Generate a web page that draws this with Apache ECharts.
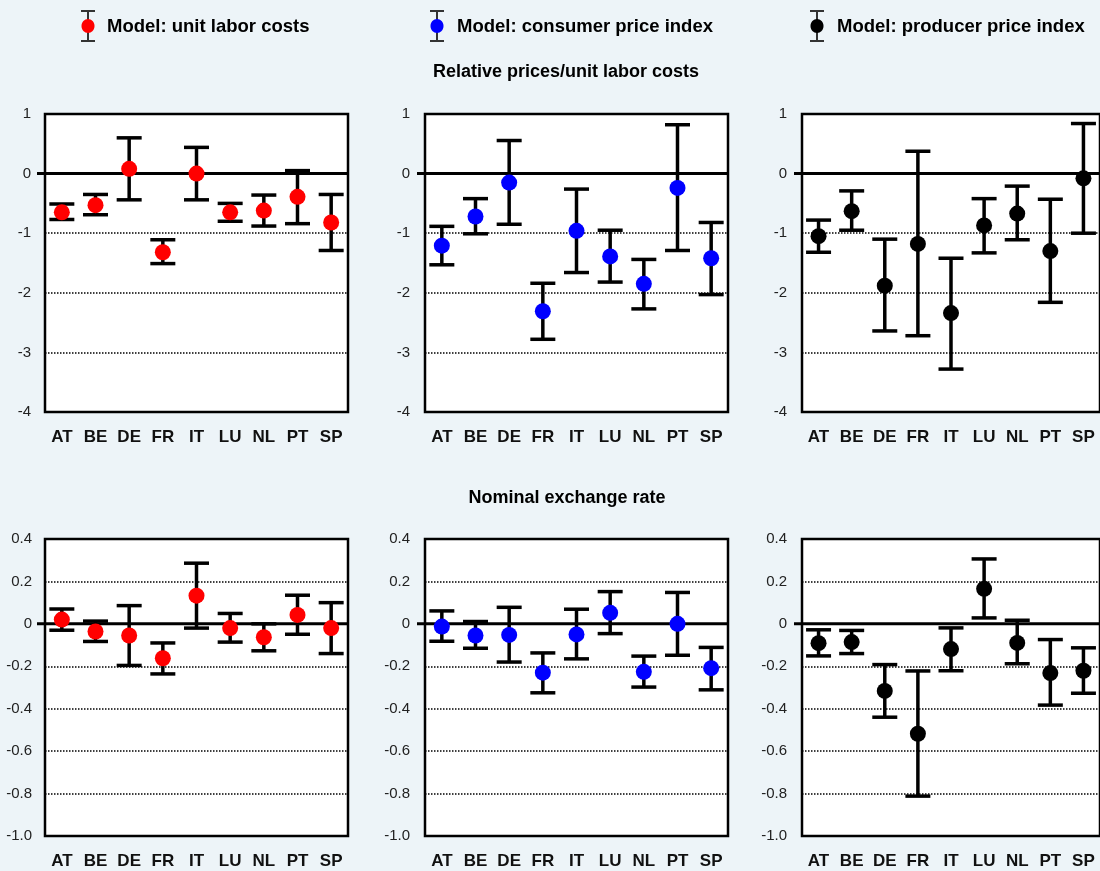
<!DOCTYPE html>
<html>
<head>
<meta charset="utf-8">
<script src="https://cdn.jsdelivr.net/npm/echarts@6/dist/echarts.min.js"></script>
<style>
  html, body { margin: 0; padding: 0; background: #edf4f8; }
  #chart { width: 1100px; height: 871px; }
</style>
</head>
<body>
<div id="chart"></div>
<script>
const categories = ['AT','BE','DE','FR','IT','LU','NL','PT','SP'];

// Relative prices / unit labor costs
const relULC     = [-0.65, -0.53, 0.08, -1.32, 0.00, -0.65, -0.62, -0.39, -0.82];
const relULCLow  = [-0.77, -0.69, -0.44, -1.51, -0.44, -0.80, -0.88, -0.84, -1.29];
const relULCHigh = [-0.51, -0.35, 0.60, -1.11, 0.44, -0.50, -0.36, 0.05, -0.35];

const relCPI     = [-1.21, -0.72, -0.15, -2.31, -0.96, -1.39, -1.85, -0.24, -1.42];
const relCPILow  = [-1.53, -1.01, -0.85, -2.78, -1.66, -1.82, -2.27, -1.29, -2.03];
const relCPIHigh = [-0.885, -0.42, 0.555, -1.84, -0.26, -0.95, -1.44, 0.82, -0.82];

const relPPI     = [-1.05, -0.63, -1.88, -1.18, -2.34, -0.87, -0.67, -1.30, -0.08];
const relPPILow  = [-1.32, -0.95, -2.64, -2.72, -3.28, -1.33, -1.11, -2.16, -1.00];
const relPPIHigh = [-0.78, -0.29, -1.10, 0.375, -1.42, -0.42, -0.21, -0.43, 0.84];

// Nominal exchange rate
const nerULC     = [0.020, -0.036, -0.055, -0.162, 0.133, -0.020, -0.063, 0.042, -0.020];
const nerULCLow  = [-0.030, -0.083, -0.196, -0.236, -0.020, -0.086, -0.127, -0.049, -0.140];
const nerULCHigh = [0.070, 0.013, 0.086, -0.090, 0.286, 0.049, 0.000, 0.135, 0.100];

const nerCPI     = [-0.013, -0.055, -0.052, -0.230, -0.050, 0.052, -0.226, 0.000, -0.209];
const nerCPILow  = [-0.082, -0.115, -0.180, -0.325, -0.165, -0.046, -0.298, -0.148, -0.311];
const nerCPIHigh = [0.061, 0.011, 0.078, -0.137, 0.069, 0.152, -0.152, 0.148, -0.111];

const nerPPI     = [-0.091, -0.086, -0.316, -0.518, -0.119, 0.165, -0.090, -0.232, -0.221];
const nerPPILow  = [-0.151, -0.140, -0.440, -0.812, -0.221, 0.028, -0.188, -0.383, -0.327];
const nerPPIHigh = [-0.028, -0.031, -0.192, -0.222, -0.019, 0.306, 0.017, -0.074, -0.113];

const legendNames = ['Model: unit labor costs', 'Model: consumer price index', 'Model: producer price index'];
const sectionTitles = ['Relative prices/unit labor costs', 'Nominal exchange rate'];

const colors = ['#ff0000', '#0000ff', '#000000'];

const panels = [
  { mid: relULC, lo: relULCLow, hi: relULCHigh, c: 0, row: 0 },
  { mid: relCPI, lo: relCPILow, hi: relCPIHigh, c: 1, row: 0 },
  { mid: relPPI, lo: relPPILow, hi: relPPIHigh, c: 2, row: 0 },
  { mid: nerULC, lo: nerULCLow, hi: nerULCHigh, c: 0, row: 1 },
  { mid: nerCPI, lo: nerCPILow, hi: nerCPIHigh, c: 1, row: 1 },
  { mid: nerPPI, lo: nerPPILow, hi: nerPPIHigh, c: 2, row: 1 }
];

const lefts = [45, 425, 802];
const labelMargins = [[14, 15, 15], [13, 15, 15]];
const tops = [114, 539];
const heights = [298, 297];
const W = 303;

const FONT = 'Liberation Sans, Arial, sans-serif';

const grids = [], xAxes = [], yAxes = [], series = [];

panels.forEach((p, i) => {
  grids.push({
    left: lefts[p.c], top: tops[p.row], width: W, height: heights[p.row],
    show: true, backgroundColor: '#ffffff', borderColor: '#000', borderWidth: 2.5
  });
  xAxes.push({
    type: 'category', gridIndex: i, data: categories, boundaryGap: true,
    axisLine: { show: false }, axisTick: { show: false },
    axisLabel: { margin: 17, fontSize: 17, fontWeight: 'bold', color: '#111', fontFamily: FONT }
  });
  const top = p.row === 0;
  yAxes.push({
    type: 'value', gridIndex: i,
    min: top ? -4 : -1, max: top ? 1 : 0.4, interval: top ? 1 : 0.2,
    axisLine: { show: false }, axisTick: { show: false },
    axisLabel: {
      margin: labelMargins[p.row][p.c], fontSize: 15, color: '#222', fontFamily: FONT,
      formatter: v => {
        if (Math.abs(v) < 1e-9) return '0';
        return top ? String(Math.round(v)) : v.toFixed(1);
      }
    },
    splitLine: { show: true, lineStyle: { type: 'dotted', color: '#000', width: 1.5 } }
  });
  // zero line
  series.push({
    type: 'custom', xAxisIndex: i, yAxisIndex: i, clip: false, silent: true, z: 3,
    data: [[0, 0]],
    renderItem: (params, api) => {
      const cs = params.coordSys;
      const y = api.coord([0, 0])[1];
      return {
        type: 'line',
        shape: { x1: cs.x - 8, y1: y, x2: cs.x + cs.width, y2: y },
        style: { stroke: '#000', lineWidth: 3 }
      };
    }
  });
  // error bars
  series.push({
    type: 'custom', xAxisIndex: i, yAxisIndex: i, clip: false, silent: true, z: 4,
    data: categories.map((c, k) => [k, p.lo[k], p.hi[k]]),
    renderItem: (params, api) => {
      const lo = api.coord([api.value(0), api.value(1)]);
      const hi = api.coord([api.value(0), api.value(2)]);
      const hw = 12.5;
      const st = { stroke: '#000', lineWidth: 3.5 };
      return {
        type: 'group',
        children: [
          { type: 'line', shape: { x1: lo[0], y1: lo[1], x2: hi[0], y2: hi[1] }, style: st },
          { type: 'line', shape: { x1: lo[0] - hw, y1: lo[1], x2: lo[0] + hw, y2: lo[1] }, style: st },
          { type: 'line', shape: { x1: hi[0] - hw, y1: hi[1], x2: hi[0] + hw, y2: hi[1] }, style: st }
        ]
      };
    }
  });
  // points
  series.push({
    type: 'scatter', name: legendNames[p.c], xAxisIndex: i, yAxisIndex: i, z: 5,
    symbol: 'circle', symbolSize: 16,
    itemStyle: { color: colors[p.c], opacity: 1 },
    data: p.mid
  });
});

// legend drawn as graphics
const legendIconX = [88, 437, 817];
const legendTextX = [107, 457, 837];
const graphics = [];
legendNames.forEach((n, k) => {
  const x = legendIconX[k];
  graphics.push(
    { type: 'line', shape: { x1: x, y1: 11, x2: x, y2: 41 }, style: { stroke: '#333', lineWidth: 2 } },
    { type: 'line', shape: { x1: x - 7, y1: 11, x2: x + 7, y2: 11 }, style: { stroke: '#333', lineWidth: 2 } },
    { type: 'line', shape: { x1: x - 7, y1: 41, x2: x + 7, y2: 41 }, style: { stroke: '#333', lineWidth: 2 } },
    { type: 'ellipse', shape: { cx: x, cy: 26, rx: 6.5, ry: 7 }, style: { fill: colors[k] } },
    { type: 'text', x: legendTextX[k], y: 27,
      style: { text: n, fill: '#000', font: 'bold 18.5px ' + FONT, verticalAlign: 'middle' } }
  );
});
graphics.push(
  { type: 'text', x: 566, y: 72, style: { text: sectionTitles[0], fill: '#000', font: 'bold 18px ' + FONT, align: 'center', verticalAlign: 'middle' } },
  { type: 'text', x: 567, y: 498, style: { text: sectionTitles[1], fill: '#000', font: 'bold 18px ' + FONT, align: 'center', verticalAlign: 'middle' } }
);

const chart = echarts.init(document.getElementById('chart'), null, { renderer: 'canvas' });
chart.setOption({
  backgroundColor: '#edf4f8',
  animation: false,
  grid: grids,
  xAxis: xAxes,
  yAxis: yAxes,
  series: series,
  graphic: graphics
});
</script>
</body>
</html>
